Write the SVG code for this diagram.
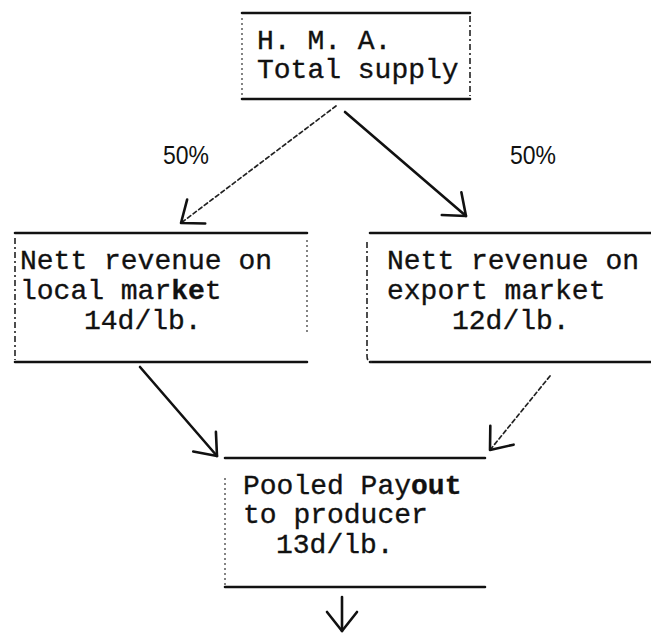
<svg xmlns="http://www.w3.org/2000/svg" width="651" height="633" viewBox="0 0 651 633">
  <style>
    .bg { fill: #ffffff; }
    .tt { font-family: "Liberation Mono", "Courier New", monospace; font-size: 28px; fill: #111; stroke: #111; stroke-width: 0.35; }
    .ov { font-weight: bold; }
    .hand { font-family: "Liberation Sans", "Noto Sans", sans-serif; font-size: 26px; fill: #111; }
    .rule { stroke: #111; stroke-width: 2.6; fill: none; stroke-linecap: round; }
    .side { stroke: #222; stroke-width: 1.6; fill: none; stroke-dasharray: 6 3 2 3; }
    .dot { stroke: #333; stroke-width: 1.2; fill: none; stroke-dasharray: 2 3; }
    .solid { stroke: #111; stroke-width: 2.6; fill: none; stroke-linecap: round; }
    .dash { stroke: #222; stroke-width: 1.7; fill: none; stroke-dasharray: 4 3; stroke-linecap: round; }
  </style>
  <defs>
    <marker id="head" markerUnits="userSpaceOnUse" markerWidth="40" markerHeight="40" refX="0" refY="0" viewBox="-30 -20 40 40" orient="auto" overflow="visible">
      <path d="M-19,-15 L0,0 L-19,15" fill="none" stroke="#111" stroke-width="2.6" stroke-linecap="round" stroke-linejoin="round"/>
    </marker>
  </defs>

  <rect class="bg" x="0" y="0" width="651" height="633"/>

  <!-- supply box -->
  <g id="supply">
    <path class="rule" d="M242,13 L470,13 M242,99 L470,99"/>
    <path class="dot" d="M242,18 L242,96"/>
    <path class="side" d="M470,16 L470,96"/>
    <text class="tt" x="257" y="49">H. M. A.</text>
    <text class="tt" x="257" y="78">Total supply</text>
  </g>

  <!-- local market box -->
  <g id="local">
    <path class="rule" d="M15,233 L307,233 M15,362 L307,362"/>
    <path class="side" d="M15,238 L15,360"/>
    <path class="dot" d="M307,240 L307,334"/>
    <text class="tt" x="20" y="269">Nett revenue on</text>
    <text class="tt" x="20" y="299">local mar<tspan class="ov">ke</tspan>t</text>
    <text class="tt" x="84" y="329">14d/lb.</text>
  </g>

  <!-- export market box -->
  <g id="export">
    <path class="rule" d="M370,233 L651,233 M370,362 L651,362"/>
    <path class="side" d="M367,242 L367,356 Q367,362 372,362" stroke-dasharray="10 2"/>
    <text class="tt" x="387" y="269">Nett revenue on</text>
    <text class="tt" x="387" y="299">export market</text>
    <text class="tt" x="452" y="329">12d/lb.</text>
  </g>

  <!-- pooled payout box -->
  <g id="pooled">
    <path class="rule" d="M225,458 L485,458 M225,587 L485,587"/>
    <path class="dot" d="M225,478 L225,585"/>
    <text class="tt" x="243" y="494">Pooled Pay<tspan class="ov">out</tspan></text>
    <text class="tt" x="243" y="523">to producer</text>
    <text class="tt" x="276" y="553">13d/lb.</text>
  </g>

  <!-- share labels -->
  <g id="labels">
    <text class="hand" x="163" y="164" textLength="46" lengthAdjust="spacingAndGlyphs">50%</text>
    <text class="hand" x="510" y="164" textLength="46" lengthAdjust="spacingAndGlyphs">50%</text>
  </g>

  <!-- connectors -->
  <g id="connectors">
    <path class="dash" d="M336,106 L181,223" stroke-dasharray="3 3" marker-end="url(#head)"/>
    <path class="solid" d="M345,112 L466,216" marker-end="url(#head)"/>
    <path class="solid" d="M140,367 L217,456" marker-end="url(#head)"/>
    <path class="dash" d="M550,376 L490,450" marker-end="url(#head)"/>
    <path class="solid" d="M342,597 L342,631" marker-end="url(#head)"/>
  </g>
</svg>
